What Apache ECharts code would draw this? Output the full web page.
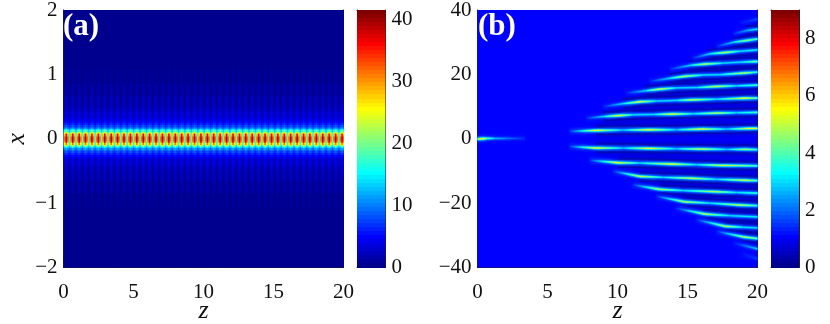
<!doctype html>
<html>
<head>
<meta charset="utf-8">
<title>chart</title>
<style>
    html, body {margin: 0; padding: 0; background: #fff;}
    #chart {width: 830px; height: 324px;}
</style>
</head>
<body>
<div id="chart"></div>
<script src="https://cdn.jsdelivr.net/npm/echarts@6/dist/echarts.min.js"></script>
<script>
    // jet colormap, 64 levels
    var jetColors = [
        '#00008F', '#00009F', '#0000AF', '#0000BF', '#0000CF', '#0000DF', '#0000EF', '#0000FF',
        '#0010FF', '#0020FF', '#0030FF', '#0040FF', '#0050FF', '#0060FF', '#0070FF', '#0080FF',
        '#008FFF', '#009FFF', '#00AFFF', '#00BFFF', '#00CFFF', '#00DFFF', '#00EFFF', '#00FFFF',
        '#10FFEF', '#20FFDF', '#30FFCF', '#40FFBF', '#50FFAF', '#60FF9F', '#70FF8F', '#80FF80',
        '#8FFF70', '#9FFF60', '#AFFF50', '#BFFF40', '#CFFF30', '#DFFF20', '#EFFF10', '#FFFF00',
        '#FFEF00', '#FFDF00', '#FFCF00', '#FFBF00', '#FFAF00', '#FF9F00', '#FF8F00', '#FF8000',
        '#FF7000', '#FF6000', '#FF5000', '#FF4000', '#FF3000', '#FF2000', '#FF1000', '#FF0000',
        '#EF0000', '#DF0000', '#CF0000', '#BF0000', '#AF0000', '#9F0000', '#8F0000', '#800000'
    ];

    var zTicksMax = 20;
    var maxA = 41.6;
    var maxB = 9;
    var backgroundB = 1.1;
    var colorbarTicksA = [0, 10, 20, 30, 40];
    var colorbarTicksB = [0, 2, 4, 6, 8];

    // panel (a): intensity profiles against |x| at the peak, halfway and between the peaks
    var rowX = [0, .02, .04, .06, .08, .10, .12, .14, .16, .18, .20, .23, .26, .30, .34, .38, .44, .50, .56, .62, .70, .80, .90, 1.0, 1.15, 1.3, 1.6, 2];
    var peakProfile = [39, 38.5, 37.5, 36, 31.5, 25.5, 19.5, 15.5, 12, 10, 8.5, 7, 5.8, 5, 4.4, 3.9, 3.4, 3, 2.6, 2.2, 1.8, 1.3, .95, .7, .45, .35, .22, .2];
    var midProfile = [32, 31.5, 30, 28, 25, 21, 17, 13.5, 10.8, 9, 7.5, 6, 4.8, 3.8, 3.2, 2.6, 2.1, 1.8, 1.5, 1.3, 1, .8, .6, .45, .35, .3, .2, .2];
    var troughProfile = [19, 18.7, 18.2, 17.5, 16.5, 15, 13, 11, 9, 7.5, 6.2, 4.8, 3.6, 2.6, 1.9, 1.3, .9, .7, .6, .5, .45, .4, .35, .3, .25, .22, .2, .2];
    // z of each bright spot
    var peakZ = [.2, .66, 1.12, 1.57, 2.03, 2.49, 2.95, 3.41, 3.86, 4.32, 4.78, 5.24, 5.7, 6.15, 6.61, 7.07, 7.53, 7.99, 8.44, 8.9, 9.36, 9.82,
        10.28, 10.73, 11.19, 11.65, 12.11, 12.57, 13.02, 13.48, 13.94, 14.4, 14.86, 15.31, 15.77, 16.23, 16.69, 17.15, 17.6, 18.06, 18.52, 18.98, 19.44, 19.9];
    var peakSpacing = .458;

    // panel (b): filaments as [z, x, intensity] read along each one
    var sourceTrack = [[0, -.1, 4.6], [.3, 0, 6], [.7, .1, 4], [1.3, .1, 2.6], [2.5, .1, 1.9], [3.4, .1, 1.35]];
    var upper1 = [[6.6, 2.3, 1.5], [8.5, 2.6, 5.5], [10.4, 2.7, 2.8], [12.3, 2.8, 5.5], [14.2, 2.8, 2.8], [16, 3, 5.5], [17.8, 3, 2.8], [19.5, 3.2, 5.5], [20, 3.2, 5]];
    var upper2 = [[7.8, 6.4, 1.4], [9, 6.9, 3], [10.1, 7.2, 5.5], [11.1, 7.45, 3], [12.6, 7.55, 3], [13.9, 7.66, 5.5], [15.4, 7.76, 3], [17.1, 7.97, 5], [18.5, 8.07, 3], [20, 8.18, 4]];
    var upper3 = [[9, 10, 1.3], [10.4, 10.9, 3], [11.6, 11.5, 5.3], [12.8, 11.7, 3], [14.2, 11.9, 3], [15.4, 12.1, 5.2], [17.1, 12.3, 3], [19.1, 12.6, 5.5], [20, 12.6, 4]];
    var upper4 = [[10.65, 14.2, 1.3], [12, 14.9, 3], [13, 15.4, 5.3], [14.2, 15.8, 3], [15.65, 15.9, 3], [17.1, 16.25, 5.2], [18.5, 16.45, 3], [20, 16.66, 4]];
    var upper5 = [[12.3, 17.8, 1.3], [13.75, 18.8, 3], [14.8, 19.4, 5], [16.1, 19.8, 3], [17.3, 19.9, 3], [19, 20.4, 5], [20, 20.7, 3.5]];
    var upper6 = [[13.75, 21.6, 1.3], [15.2, 22.8, 3], [16.25, 23.2, 5], [17.55, 23.5, 3], [18.75, 23.8, 3], [20, 24, 4.3]];
    var upper7 = [[15.4, 25.05, 1.3], [16.6, 26.4, 3], [17.7, 26.8, 5], [18.75, 27.2, 3], [20, 27.6, 3.2]];
    var upper8 = [[17.1, 28.7, 1.3], [18.3, 30, 3], [19.2, 30.5, 4.6], [20, 31, 3.8]];
    var upper9 = [[18.3, 32.6, 1.3], [19.2, 33.6, 2.5], [20, 34.05, 3.2]];
    var upper10 = [[18.75, 35.9, 1.2], [20, 37.2, 1.7]];
    var lower1 = [[6.6, -2.4, 1.5], [8.5, -2.9, 5.5], [10.4, -2.9, 2.8], [12.3, -3, 5.5], [14.2, -3.1, 2.8], [16, -3.2, 5.2], [17.8, -3.3, 2.8], [19.2, -3.3, 4.8], [20, -3.4, 3.5]];
    var lower2 = [[8.05, -6.7, 1.5], [10.05, -7.45, 5.5], [11.6, -7.55, 3], [13.9, -7.86, 5.5], [15.65, -8.07, 3], [17.45, -8.28, 5.2], [20, -8.4, 3.8]];
    var lower3 = [[9.7, -10.1, 1.4], [11.6, -11.7, 5.2], [13.3, -12, 3], [15.4, -12.3, 5.2], [17.1, -12.6, 3], [19.1, -12.9, 5.2], [20, -13, 4]];
    var lower4 = [[11.1, -14.3, 1.4], [13, -15.7, 5], [14.7, -16.1, 3], [17, -16.45, 5], [18.5, -16.7, 3], [20, -16.9, 3.8]];
    var lower5 = [[12.8, -17.9, 1.4], [14.8, -19.6, 5], [16.6, -20, 3], [18.75, -20.6, 5], [20, -20.8, 3.6]];
    var lower6 = [[14.2, -21.6, 1.3], [16.25, -23.4, 5], [18, -23.9, 3], [20, -24.3, 3.2]];
    var lower7 = [[15.65, -25.15, 1.3], [17.7, -27.2, 5], [19, -27.5, 3], [20, -27.7, 3]];
    var lower8 = [[17.1, -28.8, 1.3], [19, -30.5, 4.8], [20, -31, 4.2]];
    var lower9 = [[18.3, -32.4, 1.2], [20, -34.2, 3]];
    var lower10 = [[18.75, -35.7, 1.1], [20, -37.3, 1.6]];
    var tracks = [sourceTrack, upper1, upper2, upper3, upper4, upper5, upper6, upper7, upper8, upper9, upper10,
        lower1, lower2, lower3, lower4, lower5, lower6, lower7, lower8, lower9, lower10];

    function levelColor(v, max) {
        var i = Math.floor(v / max * jetColors.length);
        return jetColors[Math.max(0, Math.min(jetColors.length - 1, i))];
    }

    // heatmap cells of panel (a), left to right
    var cellsA = [];
    var phases = [[-.5, troughProfile], [-.25, midProfile], [0, peakProfile], [.25, midProfile], [.5, troughProfile], [.75, midProfile]];
    function rowEdge(i) {
        if (i < 0) return 0;
        if (i >= rowX.length - 1) return 2;
        return (rowX[i] + rowX[i + 1]) / 2;
    }
    peakZ.forEach(function (z, k) {
        phases.forEach(function (ph, j) {
            // the cells before the first peak only
            if (j < 2 && k > 0) return;
            var c = z + ph[0] * peakSpacing;
            var z0 = Math.max(0, c - peakSpacing / 8), z1 = Math.min(zTicksMax, c + peakSpacing / 8);
            if (z1 <= z0) return;
            rowX.forEach(function (x, i) {
                cellsA.push([z0, z1, rowEdge(i - 1), rowEdge(i), ph[1][i]]);
                cellsA.push([z0, z1, -rowEdge(i), -rowEdge(i - 1), ph[1][i]]);
            });
        });
    });

    var segments = [];
    tracks.forEach(function (t) {
        for (var i = 0; i < t.length - 1; i++) {
            segments.push([t[i][0], t[i][1], t[i][2], t[i + 1][0], t[i + 1][1], t[i + 1][2]]);
        }
    });

    function colorbarCells(max) {
        return jetColors.map(function (c, i) {
            return [i / jetColors.length * max, (i + 1) / jetColors.length * max, i];
        });
    }

    var fontName = '"Liberation Serif", "Times New Roman", serif';
    var lineColor = '#222';

    function minusLabel(v) {
        return String(v).replace('-', '\u2212');
    }

    function xAxes(grid, min, max, interval, name, showTicks) {
        var base = {
            gridIndex: grid, type: 'value', min: min, max: max, interval: interval,
            splitLine: {show: false},
            axisLine: {show: true, onZero: false, lineStyle: {color: lineColor, width: 1}},
            axisTick: {show: showTicks, inside: true, length: 4, lineStyle: {color: lineColor}}
        };
        return [
            Object.assign({}, base, {
                position: 'bottom',
                name: name, nameLocation: 'middle', nameGap: 31, nameMoveOverlap: false,
                nameTextStyle: {fontFamily: fontName, fontStyle: 'italic', fontSize: 26, color: '#111'},
                axisLabel: {show: showTicks, margin: 14, fontFamily: fontName, fontSize: 21, color: '#111', hideOverlap: false}
            }),
            Object.assign({}, base, {position: 'top', axisLabel: {show: false}})
        ];
    }

    function yAxes(grid, min, max, interval, name, labelSide, customTicks) {
        var base = {
            gridIndex: grid, type: 'value', min: min, max: max, interval: interval,
            splitLine: {show: false},
            axisLine: {show: true, onZero: false, lineStyle: {color: lineColor, width: 1}},
            axisTick: {show: true, inside: true, length: 4, customValues: customTicks, lineStyle: {color: lineColor}}
        };
        var labelled = {
            axisLabel: {show: true, margin: 6, fontFamily: fontName, fontSize: 21, color: '#111', formatter: minusLabel, customValues: customTicks, hideOverlap: false}
        };
        return [
            Object.assign({}, base, {position: 'left', name: name, nameLocation: 'middle', nameGap: 33, nameMoveOverlap: false,
                nameTextStyle: {fontFamily: fontName, fontStyle: 'italic', fontSize: 26, color: '#111'},
                axisLabel: {show: false}}, labelSide === 'left' ? labelled : {}),
            Object.assign({}, base, {position: 'right', axisLabel: {show: false}}, labelSide === 'right' ? labelled : {})
        ];
    }

    function cellSeries(xIndex, yIndex, data, max) {
        return {
            type: 'custom',
            xAxisIndex: xIndex, yAxisIndex: yIndex,
            coordinateSystem: 'cartesian2d',
            silent: true, animation: false, progressive: 0, clip: true,
            encode: {x: [0, 1], y: [2, 3]},
            data: data,
            renderItem: function (params, api) {
                var a = api.coord([api.value(0), api.value(3)]);
                var b = api.coord([api.value(1), api.value(2)]);
                // rows snap to whole pixels, columns run under the next one, so no seams
                var y0 = Math.round(a[1]);
                return {
                    type: 'rect',
                    shape: {x: a[0], y: y0, width: b[0] - a[0] + 1, height: Math.round(b[1]) - y0},
                    style: {fill: levelColor(api.value(4), max)}
                };
            }
        };
    }

    function colorbarSeries(xIndex, yIndex, max) {
        return {
            type: 'custom',
            xAxisIndex: xIndex, yAxisIndex: yIndex,
            silent: true, animation: false, progressive: 0,
            encode: {y: [0, 1]},
            data: colorbarCells(max),
            renderItem: function (params, api) {
                var a = api.coord([0, api.value(1)]);
                var b = api.coord([1, api.value(0)]);
                var y0 = Math.round(a[1]);
                return {
                    type: 'rect',
                    shape: {x: a[0], y: y0, width: b[0] - a[0], height: Math.round(b[1]) - y0},
                    style: {fill: jetColors[api.value(2)]}
                };
            }
        };
    }

    function backdropSeries(xIndex, yIndex) {
        return {
            type: 'custom',
            xAxisIndex: xIndex, yAxisIndex: yIndex,
            silent: true, animation: false, progressive: 0,
            data: [[0, 20, -40, 40]],
            encode: {x: [0, 1], y: [2, 3]},
            renderItem: function (params, api) {
                var a = api.coord([api.value(0), api.value(3)]);
                var b = api.coord([api.value(1), api.value(2)]);
                return {type: 'rect', shape: {x: a[0], y: a[1], width: b[0] - a[0], height: b[1] - a[1]}, style: {fill: levelColor(backgroundB, maxB)}};
            }
        };
    }

    // dark wake around each filament except the source, from its second reading onward
    function wakeSeries(xIndex, yIndex) {
        return {
            type: 'custom',
            xAxisIndex: xIndex, yAxisIndex: yIndex,
            silent: true, animation: false, progressive: 0, clip: true,
            data: tracks.slice(1).map(function (t, i) { return [t[0][0], t[0][1], i + 1]; }),
            renderItem: function (params, api) {
                var t = tracks[api.value(2)];
                var points = t.slice(1).map(function (p) { return api.coord([p[0], p[1]]); });
                return {
                    type: 'polyline',
                    shape: {points: points},
                    style: {fill: 'none', stroke: '#00008F', lineWidth: 10, opacity: .55, shadowBlur: 6, shadowColor: '#00008F'}
                };
            }
        };
    }

    function glowSeries(xIndex, yIndex, share, width, blur) {
        return {
            type: 'custom',
            xAxisIndex: xIndex, yAxisIndex: yIndex,
            silent: true, animation: false, progressive: 0, clip: true,
            data: segments,
            encode: {x: [0, 3], y: [1, 4]},
            renderItem: function (params, api) {
                var p0 = api.coord([api.value(0), api.value(1)]);
                var p1 = api.coord([api.value(3), api.value(4)]);
                var a0 = api.value(2), a1 = api.value(5);
                var stops = [0, .25, .5, .75, 1].map(function (t) {
                    var a = a0 + (a1 - a0) * t;
                    return {offset: t, color: levelColor(backgroundB + (a - backgroundB) * share, maxB)};
                });
                return {
                    type: 'line',
                    shape: {x1: p0[0], y1: p0[1], x2: p1[0], y2: p1[1]},
                    style: {
                        lineWidth: width, lineCap: 'butt',
                        shadowBlur: blur, shadowColor: stops[2].color,
                        stroke: new echarts.graphic.LinearGradient(p0[0], p0[1], p1[0], p1[1] + .001, stops, true)
                    }
                };
            }
        };
    }

    var gridTop = 10, gridHeight = 257.5;
    var option = {
        backgroundColor: '#fff',
        animation: false,
        grid: [
            {left: 63.5, top: gridTop, width: 280, height: gridHeight, outerBoundsMode: 'none'},
            {left: 357, top: gridTop, width: 28.5, height: gridHeight, outerBoundsMode: 'none'},
            {left: 477.5, top: gridTop, width: 280, height: gridHeight, outerBoundsMode: 'none'},
            {left: 771, top: gridTop, width: 28, height: gridHeight, outerBoundsMode: 'none'}
        ],
        xAxis: [].concat(
            xAxes(0, 0, 20, 5, 'z', true),
            xAxes(1, 0, 1, 1, '', false),
            xAxes(2, 0, 20, 5, 'z', true),
            xAxes(3, 0, 1, 1, '', false)
        ),
        yAxis: [].concat(
            yAxes(0, -2, 2, 1, 'x', 'left'),
            yAxes(1, 0, maxA, 10, '', 'right', colorbarTicksA),
            yAxes(2, -40, 40, 20, '', 'left'),
            yAxes(3, 0, maxB, 2, '', 'right', colorbarTicksB)
        ),
        series: [
            cellSeries(0, 0, cellsA, maxA),
            colorbarSeries(2, 2, maxA),
            backdropSeries(4, 4),
            wakeSeries(4, 4),
            glowSeries(4, 4, .2, 5, 3),
            glowSeries(4, 4, .45, 3, 0),
            glowSeries(4, 4, .75, 1.8, 0),
            glowSeries(4, 4, 1, 1, 0),
            colorbarSeries(6, 6, maxB)
        ],
        graphic: [
            {type: 'text', left: 63, top: 11, z: 100, style: {text: '(a)', fill: '#fff', font: 'bold 31px ' + fontName}},
            {type: 'text', left: 478, top: 11, z: 100, style: {text: '(b)', fill: '#fff', font: 'bold 31px ' + fontName}}
        ]
    };

    var myChart = echarts.init(document.getElementById('chart'), null, {renderer: 'canvas'});
    myChart.setOption(option);
</script>
</body>
</html>
